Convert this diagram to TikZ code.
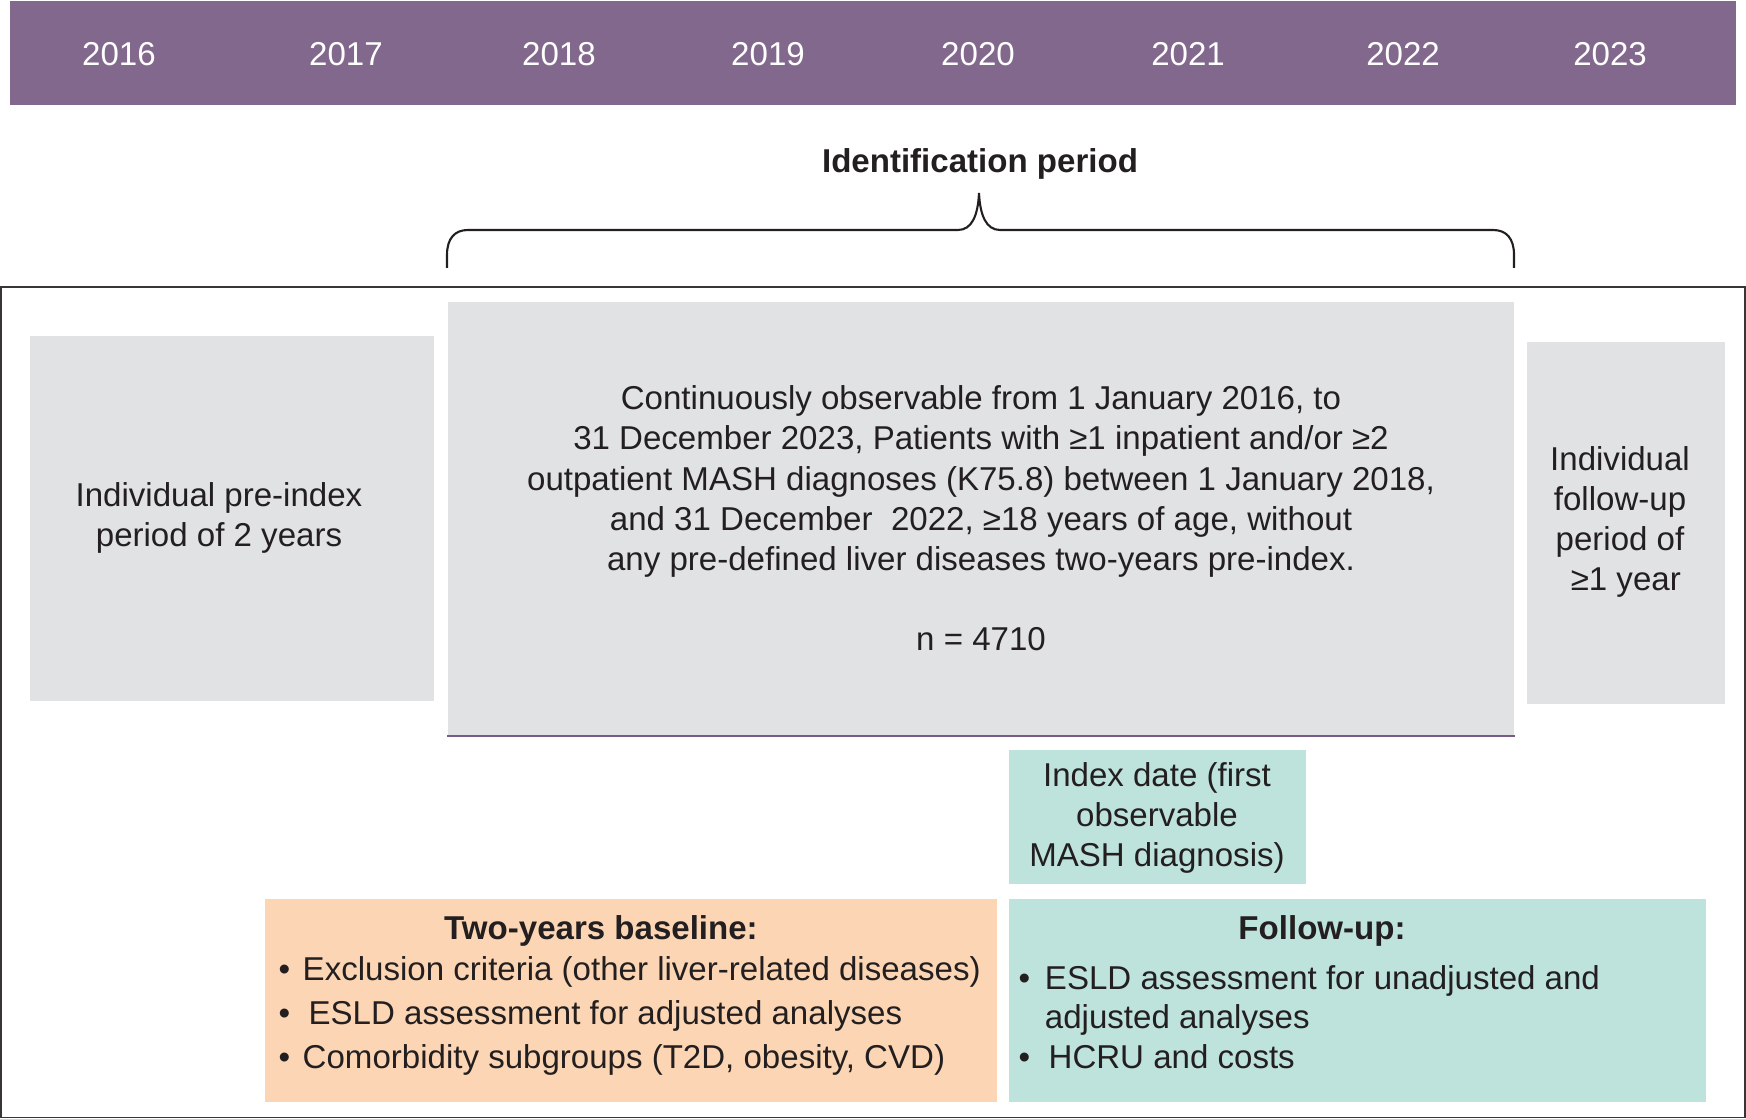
\documentclass[tikz,border=0pt]{standalone}
\usepackage{fontspec}
\setmainfont{Liberation Sans}
\usetikzlibrary{positioning}

\definecolor{bannerpurple}{RGB}{130,104,141}
\definecolor{linepurple}{RGB}{120,90,135}
\definecolor{boxgrey}{RGB}{225,226,228}
\definecolor{boxteal}{RGB}{190,227,220}
\definecolor{boxpeach}{RGB}{252,214,180}
\definecolor{textdark}{RGB}{35,31,32}
\newcommand{\bodyfont}{\fontsize{9.4pt}{11.4pt}\selectfont}

\tikzset{
    greybox/.style={fill=boxgrey, inner sep=0pt, align=center, anchor=north west},
    tealbox/.style={fill=boxteal, inner sep=0pt, align=center, anchor=north west},
    peachbox/.style={fill=boxpeach, inner sep=0pt, anchor=north west},
    yearlabel/.style={text=white, inner sep=0pt},
    boxtext/.style={inner sep=0pt, align=center},
    listtext/.style={inner sep=0pt, align=left, anchor=west}
}

\begin{document}
\begin{tikzpicture}[x=0.01cm, y=-0.01cm, every node/.style={font=\bodyfont, text=textdark}]
    \useasboundingbox (0,0) rectangle (1746,1119);

    % Draw year banner
    \node[fill=bannerpurple, inner sep=0pt, anchor=north west,
          minimum width=17.25cm, minimum height=1.04cm] (banner) at (9,0) {};
    \foreach \xx/\yr in {119/2016, 346/2017, 559/2018, 768/2019,
                         978/2020, 1188/2021, 1403/2022, 1610/2023}
        \node[yearlabel] (y\yr) at (\xx,54) {\yr};

    % Draw identification brace
    \node[font=\bodyfont\bfseries, inner sep=0pt] (idhead) at (980,164) {Identification period};
    \draw[line width=0.6pt, textdark]
        (447,268) -- (447,255) .. controls (447,238) and (455,230) .. (468,230)
        -- (958,230) .. controls (972,230) and (978,215) .. (979,193)
        .. controls (980,215) and (986,230) .. (1000,230)
        -- (1493,230) .. controls (1506,230) and (1514,238) .. (1514,255)
        -- (1514,268);

    % Draw outer frame
    \draw[line width=0.45pt, textdark!90] (1,287) rectangle (1745,1117.5);

    % Draw periods
    \node[greybox, minimum width=4.04cm, minimum height=3.65cm] (preindex) at (29,335) {};
    \node[boxtext] (pretext) at (219,518) {Individual pre-index\\period of 2 years};
    \node[greybox, minimum width=10.66cm, minimum height=4.33cm] (identify) at (447,301)
        {Continuously observable from 1 January 2016, to\\
         31 December 2023, Patients with ≥1 inpatient and/or ≥2\\
         outpatient MASH diagnoses (K75.8) between 1 January 2018,\\
         and 31 December\ \ 2022, ≥18 years of age, without\\
         any pre-defined liver diseases two-years pre-index.\\[11.4pt]
         n = 4710};
    \draw[line width=0.6pt, linepurple] (identify.south west) -- (identify.south east);
    \node[greybox, minimum width=1.98cm, minimum height=3.62cm] (followup) at (1526,341) {};
    \node[boxtext] (followtext) at (1620,522)
        {Individual\\follow-up\\period of\\\hspace*{0.35em}≥1 year};

    % Draw index date
    \node[tealbox, minimum width=2.97cm, minimum height=1.34cm] (index) at (1008,749) {};
    \node[boxtext] (indextext) at (1157,818)
        {Index date (first\\observable\\MASH diagnosis)};

    % Draw baseline box
    \node[peachbox, minimum width=7.32cm, minimum height=2.03cm] (baseline) at (264,898) {};
    \node[font=\bodyfont\bfseries, inner sep=0pt] (basehead) at (601,931) {Two-years baseline:};
    \node[listtext, font=\fontsize{9.4pt}{12.5pt}\selectfont] (baselist) at (278,1016)
        {\textbullet\ \hspace{0.1em}Exclusion criteria (other liver-related diseases)\\
         \textbullet\ \ ESLD assessment for adjusted analyses\\
         \textbullet\ \hspace{0.1em}Comorbidity subgroups (T2D, obesity, CVD)};

    % Draw follow-up box
    \node[tealbox, minimum width=6.97cm, minimum height=2.03cm] (followbox) at (1008,898) {};
    \node[font=\bodyfont\bfseries, inner sep=0pt] (followhead) at (1322,931) {Follow-up:};
    \node[listtext, font=\fontsize{9.4pt}{11.3pt}\selectfont] (followlist) at (1018,1017)
        {\textbullet\ \,ESLD assessment for unadjusted and\\
         \phantom{\textbullet\ \,}adjusted analyses\\
         \textbullet\ \ HCRU and costs};
\end{tikzpicture}
\end{document}
